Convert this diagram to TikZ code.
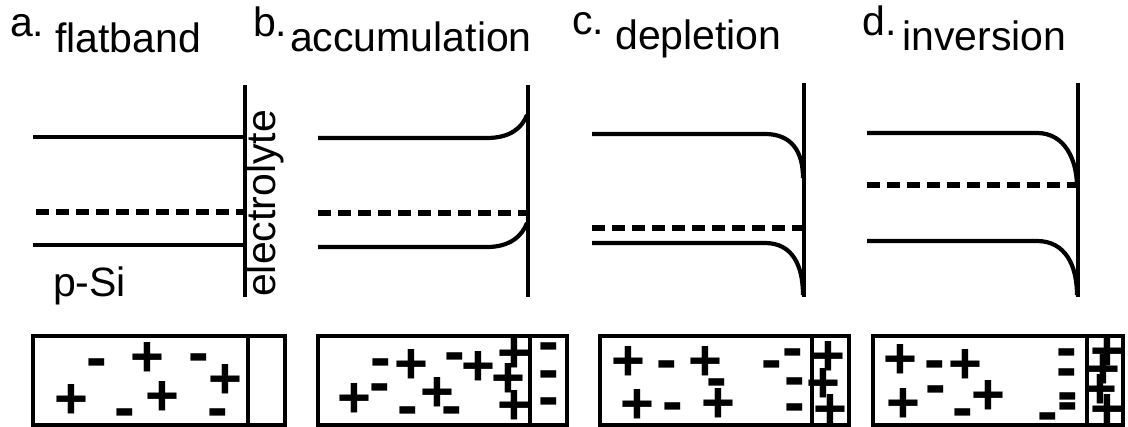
\documentclass[tikz,border=0pt]{standalone}
\usepackage{fontspec}
\setmainfont{Liberation Sans}
\usepackage{tikz}

\begin{document}
\begin{tikzpicture}[x=1pt,y=-1pt,
  band/.style={line width=4.2pt},
  wall/.style={line width=3.8pt},
  fermi/.style={line width=6.5pt,dash pattern=on 13pt off 7pt},
  box/.style={line width=4.2pt},
  lbl/.style={font=\fontsize{41}{46}\selectfont,inner sep=0pt,anchor=base west},
  chp/.style={font=\fontsize{58}{58}\selectfont\bfseries,inner sep=0pt,anchor=base,yshift=-20.3pt},
  chm/.style={font=\fontsize{62}{62}\selectfont\bfseries,inner sep=0pt,anchor=base,yshift=-15.8pt}]
  \useasboundingbox (0,0) rectangle (1128,427);
  \node[lbl] (la) at (10,37) {a.};
  \node[lbl] (ta) at (55,53) {flatband};
  \node[lbl] (lb) at (253,37) {b.};
  \node[lbl] (tb) at (290,52) {accumulation};
  \node[lbl] (lc) at (572,35) {c.};
  \node[lbl] (tc) at (615,50) {depletion};
  \node[lbl] (ld) at (862,36) {d.};
  \node[lbl] (td) at (902,51) {inversion};
  \node[lbl,rotate=90] (el) at (275,297) {electrolyte};
  \node[lbl] (si) at (53,297) {p-Si};
  \draw[wall] (245,85) -- (245,297);
  \draw[band] (33,137) -- (245,137);
  \draw[fermi] (36,212) -- (245,212);
  \draw[band] (33,245) -- (245,245);
  \draw[wall] (528,85) -- (528,297);
  \draw[band] (318,138) -- (487,138) .. controls (510,138) and (522,128) .. (527,115);
  \draw[fermi] (318,213) -- (528,213);
  \draw[band] (318,247) -- (487,247) .. controls (510,247) and (522,236) .. (527,223);
  \draw[wall] (804,83) -- (804,297);
  \draw[band] (592,134) -- (765,134) .. controls (792,134) and (803,152) .. (803,178);
  \draw[fermi] (592,228) -- (804,228);
  \draw[band] (592,243) -- (765,243) .. controls (792,243) and (803,265) .. (803,295);
  \draw[wall] (1078,83) -- (1078,297);
  \draw[band] (867,133) -- (1037,133) .. controls (1065,133) and (1077,160) .. (1077,187);
  \draw[fermi] (867,185) -- (1078,185);
  \draw[band] (867,241) -- (1037,241) .. controls (1065,241) and (1077,265) .. (1077,295);
  \draw[box] (33,336) rectangle (285,425);
  \draw[box] (248,336) -- (248,425);
  \draw[box] (318,336) rectangle (567,425);
  \draw[box] (530,336) -- (530,425);
  \draw[box] (600,336) rectangle (849,425);
  \draw[box] (812,336) -- (812,425);
  \draw[box] (873,336) rectangle (1123,425);
  \draw[box] (1087,336) -- (1087,425);
  \foreach \x/\y [count=\i] in {147/356,225/378,71/398,162/395,
      411/363,478/365,514/352,508/377,514/404,354/397,437/391,
      628/360,705/360,637/403,718/402,828/355,823/382,830/408,
      900/358,965/363,903/402,988/394,1107/350,1103/368,1100/388,1107/408}
    \node[chp] (p\i) at (\x,\y) {+};
  \foreach \x/\y [count=\i] in {97/363,199/358,125/413,218/413,
      381/363,455/357,380/388,408/411,452/411,549/347,549/375,549/402,
      667/365,772/365,793/353,717/383,795/382,673/407,795/408,
      935/365,936/390,963/413,1067/353,1067/373,1068/397,1068/407,1048/417}
    \node[chm] (m\i) at (\x,\y) {-};
\end{tikzpicture}
\end{document}
